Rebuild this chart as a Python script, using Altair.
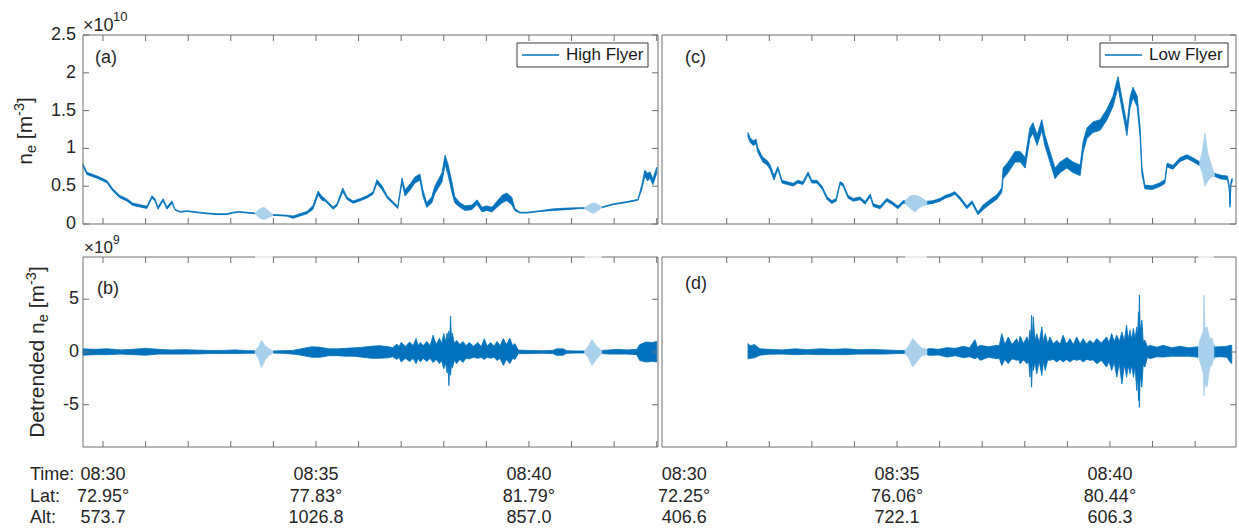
import altair as alt
import pandas as pd

# ---------------------------------------------------------------- data
# time in minutes after 08:00 UT; n_e in units of 1e10 m^-3; detrended n_e in units of 1e9 m^-3

# (a) High Flyer n_e : centre value and half-width of the noisy trace
hf_t = [29.53, 29.62, 29.86, 30.09, 30.23, 30.40, 30.56, 30.70, 30.87, 31.03, 31.15, 31.22, 31.29, 31.41,
        31.50, 31.62, 31.69, 31.81, 31.97, 32.28, 32.45, 32.68, 32.90, 33.05, 33.20, 33.38, 33.57,
        33.68, 33.78, 33.87, 33.99,
        34.32, 34.46, 34.62, 34.79, 34.93,
        35.05, 35.14, 35.21, 35.28, 35.40, 35.49, 35.63, 35.73, 35.87, 36.03, 36.20, 36.34, 36.43, 36.55, 36.67, 36.81, 36.92,
        37.02, 37.09, 37.21, 37.32, 37.44, 37.51, 37.60, 37.72, 37.79, 37.96, 38.03, 38.10, 38.19, 38.26,
        38.38, 38.50, 38.66, 38.78, 38.90, 39.01, 39.13, 39.25, 39.37, 39.48, 39.60, 39.67,
        39.79, 39.95, 40.26, 40.56, 40.89, 41.20, 41.31,
        41.43, 41.52, 41.62, 41.71,
        41.97, 42.30, 42.56, 42.65, 42.72, 42.79, 42.84, 42.91, 43.00]
hf_ne = [0.78, 0.67, 0.62, 0.56, 0.45, 0.36, 0.32, 0.26, 0.24, 0.22, 0.36, 0.32, 0.21, 0.32,
         0.21, 0.29, 0.19, 0.16, 0.17, 0.15, 0.14, 0.13, 0.13, 0.15, 0.16, 0.15, 0.14,
         0.14, 0.14, 0.13, 0.12,
         0.11, 0.09, 0.12, 0.15, 0.22,
         0.41, 0.34, 0.32, 0.28, 0.21, 0.25, 0.45, 0.34, 0.29, 0.32, 0.36, 0.41, 0.56, 0.48, 0.36, 0.28, 0.22,
         0.58, 0.41, 0.49, 0.58, 0.62, 0.41, 0.25, 0.32, 0.45, 0.62, 0.85, 0.72, 0.49, 0.32,
         0.25, 0.21, 0.22, 0.29, 0.19, 0.21, 0.19, 0.26, 0.33, 0.36, 0.30, 0.19,
         0.15, 0.15, 0.17, 0.19, 0.20, 0.21, 0.21,
         0.21, 0.21, 0.22, 0.22,
         0.26, 0.29, 0.32, 0.49, 0.67, 0.62, 0.65, 0.56, 0.71]
hf_hw = [0.015, 0.015, 0.015, 0.015, 0.015, 0.015, 0.015, 0.015, 0.015, 0.015, 0.015, 0.015, 0.015, 0.015,
         0.015, 0.015, 0.006, 0.006, 0.006, 0.006, 0.006, 0.006, 0.006, 0.006, 0.006, 0.006, 0.006,
         0.06, 0.08, 0.05, 0.006,
         0.006, 0.015, 0.015, 0.015, 0.025,
         0.025, 0.025, 0.015, 0.015, 0.015, 0.015, 0.025, 0.015, 0.015, 0.015, 0.015, 0.015, 0.025, 0.025, 0.015, 0.015, 0.015,
         0.03, 0.04, 0.04, 0.04, 0.04, 0.04, 0.03, 0.04, 0.05, 0.06, 0.06, 0.07, 0.07, 0.04,
         0.03, 0.03, 0.03, 0.03, 0.03, 0.03, 0.03, 0.04, 0.05, 0.05, 0.05, 0.015,
         0.006, 0.006, 0.006, 0.01, 0.01, 0.006, 0.006,
         0.05, 0.07, 0.04, 0.006,
         0.006, 0.006, 0.006, 0.03, 0.04, 0.05, 0.04, 0.04, 0.04]
hf_parts = [("dark", 29.53, 33.57), ("light", 33.57, 33.99), ("dark", 33.99, 41.31),
            ("light", 41.31, 41.71), ("dark", 41.71, 43.00)]

# (c) Low Flyer n_e
lf_t = [31.50, 31.55, 31.62, 31.69, 31.73, 31.81, 31.85, 31.95, 32.02, 32.11, 32.20, 32.30, 32.42, 32.56,
        32.67, 32.79, 32.91, 33.00, 33.12, 33.24, 33.36, 33.47, 33.57, 33.66, 33.73, 33.85, 33.97, 34.13,
        34.25, 34.37, 34.44, 34.60, 34.76, 34.88, 35.02, 35.14, 35.19,
        35.30, 35.42, 35.54, 35.70,
        35.84, 36.01, 36.13, 36.24, 36.36, 36.48, 36.64, 36.76, 36.90,
        37.02, 37.18, 37.35, 37.46,
        37.49, 37.61, 37.77, 37.89, 38.01, 38.12, 38.19, 38.29, 38.40, 38.47, 38.59, 38.71, 38.83, 38.99,
        39.13, 39.30, 39.37, 39.46, 39.60, 39.77, 39.93, 40.07, 40.19, 40.28, 40.40, 40.47, 40.54, 40.64, 40.71,
        40.75,
        40.82, 40.99, 41.17, 41.29, 41.34, 41.48, 41.64, 41.81, 41.95, 42.07, 42.11,
        42.17, 42.23, 42.30, 42.38, 42.45,
        42.61, 42.76, 42.80, 42.82, 42.84, 42.87]
lf_ne = [1.18, 1.11, 1.07, 1.09, 0.98, 0.89, 0.85, 0.81, 0.75, 0.61, 0.74, 0.56, 0.54, 0.52,
         0.56, 0.54, 0.67, 0.56, 0.56, 0.48, 0.34, 0.29, 0.32, 0.54, 0.52, 0.36, 0.32, 0.34,
         0.28, 0.38, 0.25, 0.22, 0.32, 0.28, 0.22, 0.29, 0.29,
         0.29, 0.27, 0.29, 0.28,
         0.29, 0.32, 0.36, 0.38, 0.41, 0.34, 0.22, 0.29, 0.14,
         0.22, 0.29, 0.36, 0.45,
         0.67, 0.75, 0.89, 0.89, 0.81, 1.20, 1.27, 1.11, 1.31, 1.11, 0.89, 0.67, 0.75, 0.81,
         0.75, 0.71, 1.02, 1.20, 1.28, 1.31, 1.45, 1.62, 1.88, 1.60, 1.24, 1.60, 1.74, 1.62, 1.20,
         0.71,
         0.49, 0.48, 0.52, 0.56, 0.78, 0.75, 0.85, 0.89, 0.85, 0.81, 0.80,
         0.82, 0.85, 0.75, 0.70, 0.65,
         0.62, 0.61, 0.49, 0.24, 0.54, 0.58]
lf_hw = [0.03, 0.03, 0.03, 0.03, 0.03, 0.03, 0.03, 0.03, 0.03, 0.03, 0.018, 0.018, 0.018, 0.018,
         0.018, 0.018, 0.018, 0.018, 0.018, 0.018, 0.018, 0.018, 0.018, 0.018, 0.018, 0.018, 0.018, 0.018,
         0.018, 0.018, 0.018, 0.018, 0.018, 0.018, 0.018, 0.018, 0.018,
         0.08, 0.11, 0.07, 0.02,
         0.018, 0.018, 0.018, 0.018, 0.018, 0.018, 0.018, 0.018, 0.018,
         0.03, 0.03, 0.03, 0.03,
         0.07, 0.07, 0.07, 0.07, 0.07, 0.07, 0.07, 0.07, 0.07, 0.07, 0.07, 0.07, 0.07, 0.07,
         0.07, 0.07, 0.07, 0.07, 0.07, 0.07, 0.07, 0.07, 0.07, 0.07, 0.07, 0.07, 0.07, 0.07, 0.07,
         0.05,
         0.025, 0.025, 0.025, 0.025, 0.025, 0.025, 0.025, 0.025, 0.025, 0.025, 0.025,
         0.15, 0.35, 0.18, 0.08, 0.02,
         0.025, 0.025, 0.025, 0.02, 0.025, 0.025]
lf_parts = [("dark", 31.50, 35.19), ("light", 35.19, 35.70), ("dark", 35.70, 42.11),
            ("light", 42.11, 42.45), ("dark", 42.45, 42.87)]

# (b) High Flyer detrended n_e : upper / lower envelope
hfd_t = [29.53, 29.80, 30.10, 30.40, 30.70, 31.00, 31.30, 31.60, 31.90, 32.20,
         32.50, 32.80, 33.10, 33.40, 33.57,
         33.65, 33.72, 33.80, 33.90, 33.99,
         34.20, 34.45, 34.65, 34.90, 35.10, 35.30, 35.50, 35.70, 35.90, 36.10,
         36.30, 36.50, 36.70, 36.80, 36.90, 36.95, 37.00, 37.10, 37.20, 37.28,
         37.35, 37.40, 37.45, 37.52, 37.60, 37.68, 37.75, 37.82, 37.90, 37.95,
         38.00, 38.04, 38.08, 38.10, 38.12, 38.14, 38.16, 38.18, 38.20, 38.25,
         38.30, 38.38, 38.45, 38.52, 38.60, 38.70, 38.80, 38.88, 38.95, 39.02,
         39.10, 39.18, 39.25, 39.32, 39.40, 39.47, 39.55, 39.62, 39.67, 39.75,
         40.00, 40.30, 40.56, 40.65, 40.80, 40.89, 41.10, 41.31,
         41.40, 41.48, 41.58, 41.71,
         41.90, 42.10, 42.30, 42.53, 42.60, 42.75, 42.90, 43.00]
hfd_up = [0.30, 0.25, 0.30, 0.20, 0.25, 0.35, 0.25, 0.20, 0.22, 0.18,
          0.15, 0.15, 0.20, 0.12, 0.12,
          0.50, 1.10, 0.60, 0.30, 0.10,
          0.12, 0.15, 0.30, 0.50, 0.45, 0.30, 0.30, 0.35, 0.40, 0.45,
          0.55, 0.60, 0.50, 0.40, 0.75, 0.50, 0.90, 0.55, 0.95, 0.60,
          1.27, 0.60, 0.90, 0.60, 1.00, 0.60, 1.60, 0.70, 1.30, 0.80,
          1.75, 1.00, 1.80, 1.10, 2.00, 1.20, 3.40, 1.20, 1.80, 0.80,
          1.10, 0.70, 1.00, 0.60, 0.90, 0.55, 0.90, 0.50, 1.25, 0.55,
          0.90, 0.55, 1.00, 0.60, 1.27, 0.70, 1.30, 0.60, 0.80, 0.18,
          0.15, 0.12, 0.15, 0.30, 0.30, 0.12, 0.10, 0.10,
          0.60, 1.17, 0.60, 0.15,
          0.20, 0.25, 0.20, 0.25, 0.70, 0.95, 0.90, 1.00]
hfd_lo = [-0.30, -0.25, -0.25, -0.20, -0.25, -0.30, -0.20, -0.20, -0.20, -0.18,
          -0.15, -0.15, -0.15, -0.12, -0.12,
          -0.60, -1.50, -0.80, -0.30, -0.10,
          -0.12, -0.20, -0.30, -0.50, -0.50, -0.35, -0.35, -0.40, -0.40, -0.50,
          -0.60, -0.60, -0.55, -0.45, -0.70, -0.50, -0.95, -0.60, -0.90, -0.60,
          -1.11, -0.60, -0.95, -0.60, -0.90, -0.60, -1.00, -0.70, -1.10, -0.80,
          -1.60, -1.00, -2.00, -1.20, -3.20, -1.30, -2.20, -1.20, -1.50, -0.80,
          -1.10, -0.70, -1.00, -0.60, -0.65, -0.50, -0.60, -0.50, -0.70, -0.50,
          -0.60, -0.50, -0.80, -0.60, -1.27, -0.70, -1.10, -0.60, -0.70, -0.16,
          -0.15, -0.12, -0.15, -0.32, -0.30, -0.12, -0.10, -0.10,
          -0.60, -1.27, -0.70, -0.15,
          -0.20, -0.20, -0.20, -0.25, -0.80, -0.95, -0.90, -0.95]
hfd_parts = hf_parts

# (d) Low Flyer detrended n_e
lfd_t = [31.50, 31.55, 31.65, 31.78, 32.00, 32.30, 32.60, 32.90, 33.20, 33.50,
         33.80, 34.10, 34.40, 34.70, 35.00, 35.19,
         35.28, 35.37, 35.47, 35.57, 35.70,
         35.77, 35.97, 36.17, 36.37, 36.56, 36.70, 36.83, 36.89, 36.95, 37.15,
         37.34, 37.40, 37.46, 37.53, 37.61, 37.70, 37.81, 37.85, 37.89, 37.97,
         38.05, 38.09, 38.12, 38.14, 38.16, 38.18, 38.20, 38.24, 38.28, 38.34,
         38.40, 38.44, 38.48, 38.54, 38.59, 38.67, 38.75, 38.83, 38.90, 38.98,
         39.06, 39.14, 39.22, 39.30, 39.37, 39.45, 39.53, 39.61, 39.69, 39.80,
         39.92, 39.98, 40.04, 40.10, 40.16, 40.22, 40.28, 40.34, 40.39, 40.43,
         40.47, 40.51, 40.55, 40.59, 40.63, 40.65, 40.67, 40.68, 40.69, 40.71,
         40.75, 40.78, 40.82, 40.88, 40.94, 41.10, 41.25, 41.45, 41.64, 41.85,
         42.04, 42.08,
         42.12, 42.19, 42.21, 42.23, 42.28, 42.34, 42.40, 42.44,
         42.47, 42.60, 42.75, 42.82, 42.86]
lfd_up = [0.80, 0.60, 0.70, 0.30, 0.25, 0.20, 0.30, 0.22, 0.30, 0.25,
          0.30, 0.22, 0.25, 0.20, 0.15, 0.15,
          0.60, 1.27, 0.80, 0.40, 0.25,
          0.32, 0.25, 0.41, 0.35, 0.54, 0.40, 1.17, 0.45, 0.63, 0.50,
          0.63, 0.60, 1.75, 0.70, 1.43, 0.70, 1.27, 0.75, 1.49, 0.80,
          1.43, 0.90, 2.06, 1.00, 3.49, 1.10, 3.33, 1.00, 1.75, 0.90,
          2.38, 0.90, 1.75, 0.80, 1.43, 0.75, 1.11, 0.75, 1.59, 0.75,
          1.27, 0.70, 1.43, 0.75, 1.27, 0.75, 1.11, 0.80, 1.27, 0.85,
          1.43, 0.90, 1.75, 1.00, 1.59, 1.00, 1.90, 1.10, 2.54, 1.20,
          2.06, 1.20, 2.22, 1.30, 2.38, 1.50, 3.81, 2.00, 5.40, 2.00,
          3.02, 1.00, 1.11, 0.50, 0.63, 0.45, 0.63, 0.40, 0.54, 0.40,
          0.48, 0.50,
          1.20, 1.90, 5.40, 2.20, 2.40, 1.30, 1.27, 0.60,
          0.48, 0.50, 0.55, 0.63, 0.63]
lfd_lo = [-0.65, -0.60, -0.55, -0.30, -0.22, -0.20, -0.25, -0.22, -0.25, -0.25,
          -0.25, -0.20, -0.20, -0.20, -0.15, -0.15,
          -0.60, -1.43, -0.90, -0.40, -0.25,
          -0.32, -0.28, -0.48, -0.35, -0.54, -0.45, -0.63, -0.50, -0.79, -0.50,
          -0.63, -0.60, -1.27, -0.70, -1.11, -0.65, -0.79, -0.70, -1.11, -0.75,
          -1.11, -0.90, -2.38, -1.20, -3.33, -1.00, -1.75, -1.00, -2.06, -0.90,
          -2.22, -0.90, -1.75, -0.75, -0.79, -0.70, -0.95, -0.70, -0.95, -0.70,
          -0.95, -0.70, -0.79, -0.70, -0.95, -0.70, -0.79, -0.75, -1.11, -0.80,
          -1.43, -0.90, -1.75, -1.00, -2.38, -1.10, -3.02, -1.20, -2.38, -1.30,
          -2.06, -1.30, -2.38, -1.50, -3.65, -2.00, -4.60, -2.50, -5.24, -2.20,
          -3.33, -1.20, -1.43, -0.50, -0.63, -0.45, -0.48, -0.40, -0.41, -0.40,
          -0.48, -0.50,
          -1.00, -2.00, -4.13, -3.00, -3.33, -1.50, -1.20, -0.60,
          -0.48, -0.45, -0.50, -0.95, -1.11]
lfd_parts = [("dark", 31.50, 35.19), ("light", 35.19, 35.70), ("dark", 35.70, 42.08),
             ("light", 42.08, 42.44), ("dark", 42.44, 42.86)]

# axes ticks and labels
top_tick_vals = [0, 0.5, 1, 1.5, 2, 2.5]
top_tick_labs = ["0", "0.5", "1", "1.5", "2", "2.5"]
bot_tick_vals = [-5, 0, 5]
bot_tick_labs = ["-5", "0", "5"]
left_minute_ticks = [30, 31, 32, 33, 34, 35, 36, 37, 38, 39, 40, 41, 42, 43]
right_minute_ticks = [31, 32, 33, 34, 35, 36, 37, 38, 39, 40, 41, 42]

label_minutes = [30, 35, 40]
time_labels = ["08:30", "08:35", "08:40"]
hf_lat = ["72.95°", "77.83°", "81.79°"]
hf_alt = ["573.7", "1026.8", "857.0"]
lf_lat = ["72.25°", "76.06°", "80.44°"]
lf_alt = ["406.6", "722.1", "606.3"]

# ---------------------------------------------------------------- style / layout
DARK = "#0072BD"
LIGHT = "#A9D1EE"
FRAME = "#6e6e6e"
TXT = "#262626"
FONT = "Liberation Sans"

X_DOM = {"L": [29.53, 43.03], "R": [29.48, 42.96]}
X_RNG = {"L": [83, 658], "R": [662, 1236]}
Y_DOM = {"T": [0, 2.5], "B": [-9, 9]}
Y_RNG = {"T": [224, 35], "B": [447, 257]}

ONE = pd.DataFrame({"k": [0]})


def xsc(p):
    return alt.Scale(domain=X_DOM[p], range=X_RNG[p], nice=False, zero=False)


def ysc(r):
    return alt.Scale(domain=Y_DOM[r], range=Y_RNG[r], nice=False, zero=False)


def X(field, p):
    return alt.X(field, type="quantitative", scale=xsc(p), axis=None)


def Y(field, r):
    return alt.Y(field, type="quantitative", scale=ysc(r), axis=None)


def build(t, lo, hi, parts):
    rows = []
    for i, (kind, s, e) in enumerate(parts):
        for ti, a, b in zip(t, lo, hi):
            if s - 1e-9 <= ti <= e + 1e-9:
                rows.append({"t": ti, "lo": a, "hi": b, "seg": f"{kind}{i}", "kind": kind})
    return pd.DataFrame(rows)


def series(df, p, r, sw):
    out = []
    for kind, col in (("dark", DARK), ("light", LIGHT)):
        sub = df[df["kind"] == kind]
        out.append(
            alt.Chart(sub)
            .mark_area(color=col, stroke=col, strokeWidth=sw, strokeJoin="round", opacity=1, interpolate="linear")
            .encode(x=X("t", p), y=Y("lo", r), y2=alt.Y2("hi"), detail="seg:N")
        )
    return out


def frame(p, r):
    df = pd.DataFrame({"x0": [X_DOM[p][0]], "x1": [X_DOM[p][1]], "y0": [Y_DOM[r][0]], "y1": [Y_DOM[r][1]]})
    return (
        alt.Chart(df)
        .mark_rect(fillOpacity=0, stroke=FRAME, strokeWidth=1)
        .encode(x=X("x0", p), x2=alt.X2("x1"), y=Y("y0", r), y2=alt.Y2("y1"))
    )


def xticks(p, r, vals):
    df = pd.DataFrame({"t": vals})
    top = Y_RNG[r][1]
    bot = Y_RNG[r][0]
    a = alt.Chart(df).mark_rule(color=FRAME, strokeWidth=1).encode(
        x=X("t", p), y=alt.value(top), y2=alt.value(top + 6))
    b = alt.Chart(df).mark_rule(color=FRAME, strokeWidth=1).encode(
        x=X("t", p), y=alt.value(bot - 6), y2=alt.value(bot))
    return [a, b]


def yticks(p, r, vals, sides):
    df = pd.DataFrame({"v": vals})
    l, rr = X_RNG[p]
    out = []
    if "left" in sides:
        out.append(alt.Chart(df).mark_rule(color=FRAME, strokeWidth=1).encode(
            y=Y("v", r), x=alt.value(l), x2=alt.value(l + 6)))
    if "right" in sides:
        out.append(alt.Chart(df).mark_rule(color=FRAME, strokeWidth=1).encode(
            y=Y("v", r), x=alt.value(rr - 6), x2=alt.value(rr)))
    return out


def ylabels(r, vals, labs, xpos):
    df = pd.DataFrame({"v": vals, "lab": labs})
    return alt.Chart(df).mark_text(font=FONT, fontSize=18, align="right", baseline="middle", color=TXT).encode(
        x=alt.value(xpos), y=Y("v", r), text="lab:N")


def txt(s, x, y, size=18, align="left", baseline="alphabetic", angle=0, color=TXT):
    kw = dict(text=s, font=FONT, fontSize=size, align=align, baseline=baseline, color=color)
    if angle:
        kw["angle"] = angle
    return alt.Chart(ONE).mark_text(**kw).encode(x=alt.value(x), y=alt.value(y))


def legend(x0, x1, label):
    box = alt.Chart(ONE).mark_rect(fill="white", stroke="#3a3a3a", strokeWidth=1).encode(
        x=alt.value(x0), x2=alt.value(x1), y=alt.value(43), y2=alt.value(67))
    line = alt.Chart(ONE).mark_rule(color=DARK, strokeWidth=1.3).encode(
        x=alt.value(x0 + 5), x2=alt.value(x0 + 42), y=alt.value(55))
    return [box, line, txt(label, x0 + 49, 55, size=17, baseline="middle", color="#1a1a1a")]


def border_gaps(p, parts):
    lights = [(s, e) for k, s, e in parts if k == "light"]
    df = pd.DataFrame({"s": [a for a, b in lights], "e": [b for a, b in lights]})
    return alt.Chart(df).mark_rule(color="#ededed", strokeWidth=2).encode(
        x=X("s", p), x2=alt.X2("e"), y=alt.value(257))


def bottom_labels(p, lats, alts):
    df = pd.DataFrame({"t": label_minutes, "time": time_labels, "lat": lats, "alt": alts})
    out = []
    for col, y in (("time", 480), ("lat", 502), ("alt", 523)):
        out.append(alt.Chart(df).mark_text(font=FONT, fontSize=18, align="center", baseline="alphabetic",
                                           color=TXT).encode(x=X("t", p), y=alt.value(y), text=f"{col}:N"))
    return out


def vtitle(pieces, base_x):
    # pieces: (text, start_y, font size, x shift) drawn bottom-to-top
    return [txt(s, base_x + dx, y, size=sz, angle=270) for s, y, sz, dx in pieces]


# ---------------------------------------------------------------- layers
hf_df = build(hf_t, [m - h for m, h in zip(hf_ne, hf_hw)], [m + h for m, h in zip(hf_ne, hf_hw)], hf_parts)
lf_df = build(lf_t, [m - h for m, h in zip(lf_ne, lf_hw)], [m + h for m, h in zip(lf_ne, lf_hw)], lf_parts)
hfd_df = build(hfd_t, hfd_lo, hfd_up, hfd_parts)
lfd_df = build(lfd_t, lfd_lo, lfd_up, lfd_parts)

layers = []
layers += series(hf_df, "L", "T", 0.8)
layers += series(lf_df, "R", "T", 0.8)
layers += series(hfd_df, "L", "B", 0.8)
layers += series(lfd_df, "R", "B", 0.8)

for p, r in (("L", "T"), ("R", "T"), ("L", "B"), ("R", "B")):
    layers.append(frame(p, r))
    layers += xticks(p, r, left_minute_ticks if p == "L" else right_minute_ticks)
layers += yticks("L", "T", top_tick_vals, ["left", "right"])
layers += yticks("R", "T", top_tick_vals, ["right"])
layers += yticks("L", "B", bot_tick_vals, ["left", "right"])
layers += yticks("R", "B", bot_tick_vals, ["right"])
layers.append(border_gaps("L", hfd_parts))
layers.append(border_gaps("R", lfd_parts))

layers.append(ylabels("T", top_tick_vals, top_tick_labs, 76))
layers.append(ylabels("B", bot_tick_vals, bot_tick_labs, 79))

# exponent labels
layers.append(txt("×10", 83, 31, size=18))
layers.append(txt("10", 113, 21, size=13))
layers.append(txt("×10", 84, 253, size=17))
layers.append(txt("9", 113, 244, size=12))

# panel letters
layers.append(txt("(a)", 95, 63))
layers.append(txt("(c)", 685, 63))
layers.append(txt("(b)", 97, 294))
layers.append(txt("(d)", 685, 289))

# legends
layers += legend(517, 648, "High Flyer")
layers += legend(1100, 1228, "Low Flyer")

# y-axis titles (composed so that the sub/superscripts are real text)
layers += vtitle([("n", 164.8, 21, 0), ("e", 153.1, 14.5, 4), ("[m", 139.2, 21, 0),
                  ("-3", 115.9, 14.5, -8), ("]", 103.0, 21, 0)], 32)
layers += vtitle([("Detrended n", 437.8, 21, 0), ("e", 322.2, 14.5, 4), ("[m", 308.3, 21, 0),
                  ("-3", 285.0, 14.5, -8), ("]", 272.1, 21, 0)], 44)

# bottom annotation rows
layers.append(txt("Time:", 30, 480))
layers.append(txt("Lat:", 30, 502))
layers.append(txt("Alt:", 30, 523))
layers += bottom_labels("L", hf_lat, hf_alt)
layers += bottom_labels("R", lf_lat, lf_alt)

chart = (
    alt.layer(*layers)
    .resolve_scale(x="independent", y="independent")
    .properties(width=1239, height=530, autosize=alt.AutoSizeParams(type="none"), padding=0, background="white")
    .configure_view(strokeOpacity=0)
)

chart.save("out.html", embed_options={"renderer": "svg", "actions": False})
